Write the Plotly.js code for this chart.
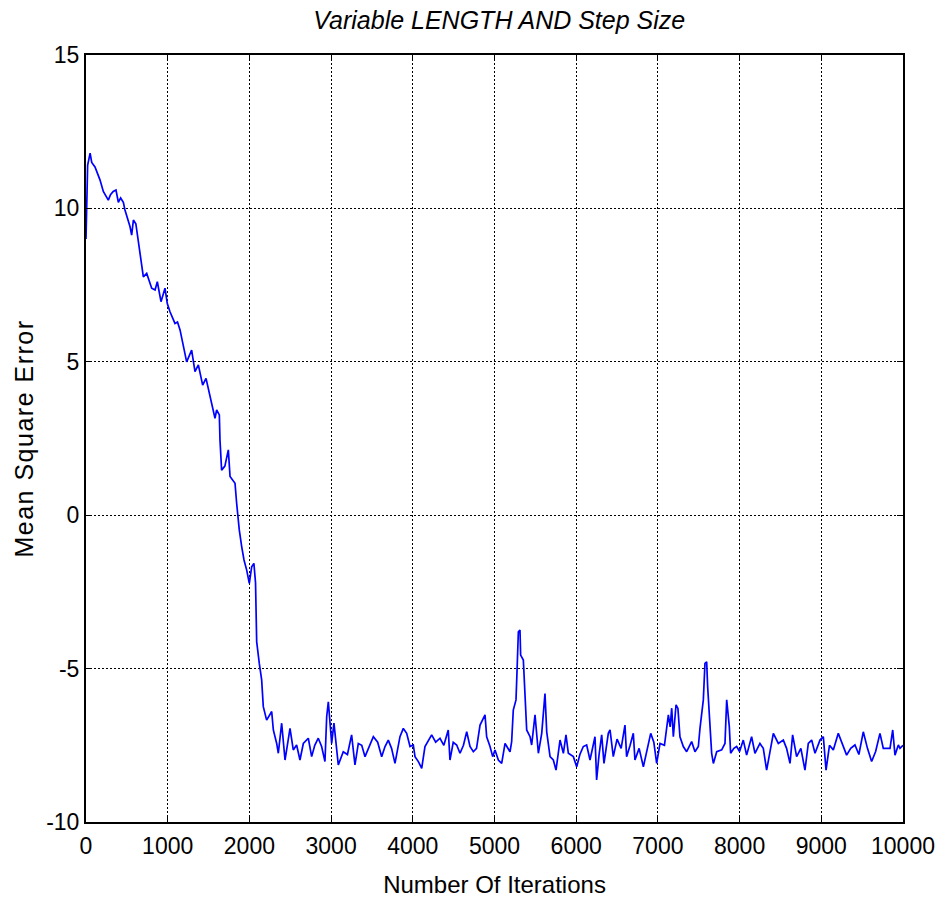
<!DOCTYPE html>
<html>
<head>
<meta charset="utf-8">
<script src="https://cdn.plot.ly/plotly-3.0.1.min.js"></script>
<style>html,body{margin:0;padding:0;background:#fff;}#chart{width:942px;height:898px;}
.ytitle{letter-spacing:1.5px;}</style>
</head>
<body>
<div id="chart"></div>
<script>
const iterations = [0,20,50,70,110,171,212,273,300,333,367,396,424,457,477,539,559,580,610,641,681,702,743,804,845,873,918,967,995,1028,1089,1120,1151,1191,1232,1293,1334,1375,1428,1469,1497,1538,1579,1599,1632,1640,1660,1700,1742,1763,1824,1844,1876,1906,1934,1967,1999,2028,2055,2075,2089,2121,2150,2170,2211,2273,2293,2334,2354,2395,2436,2497,2537,2578,2619,2660,2721,2762,2800,2843,2884,2925,2946,2966,2986,3007,3035,3068,3088,3149,3200,3251,3292,3333,3375,3415,3460,3517,3570,3619,3660,3700,3740,3782,3843,3884,3925,3966,4006,4027,4068,4109,4149,4190,4231,4280,4333,4380,4434,4455,4495,4537,4578,4620,4660,4700,4741,4780,4823,4884,4904,4945,4978,5006,5047,5088,5129,5190,5210,5230,5263,5272,5292,5312,5320,5353,5373,5394,5435,5455,5496,5516,5537,5578,5618,5639,5680,5720,5753,5802,5843,5875,5904,5965,6006,6045,6087,6128,6169,6230,6250,6280,6312,6340,6393,6414,6454,6500,6550,6597,6617,6660,6699,6719,6770,6822,6870,6912,6950,6985,7026,7080,7128,7150,7169,7189,7222,7245,7270,7311,7352,7413,7454,7495,7515,7556,7576,7597,7609,7638,7658,7679,7720,7781,7821,7842,7874,7890,7930,7964,8000,8045,8086,8147,8188,8249,8290,8331,8370,8413,8474,8535,8575,8617,8649,8698,8750,8800,8841,8882,8923,8984,9025,9058,9100,9147,9208,9260,9310,9360,9412,9460,9514,9565,9616,9665,9718,9759,9841,9874,9902,9943,9963,10000];
const mse = [9.0,11.4,11.8,11.5,11.35,10.93,10.55,10.27,10.45,10.55,10.6,10.2,10.34,10.2,9.95,9.4,9.13,9.62,9.5,8.86,8.2,7.77,7.88,7.4,7.34,7.61,6.96,7.4,6.9,6.63,6.25,6.3,6.04,5.49,5.0,5.38,4.68,4.9,4.24,4.46,4.14,3.6,3.16,3.43,3.27,2.45,1.47,1.6,2.13,1.26,1.04,0.39,-0.48,-1.03,-1.46,-1.79,-2.22,-1.68,-1.57,-2.2,-4.12,-4.83,-5.37,-6.24,-6.68,-6.4,-7.0,-7.44,-7.76,-6.78,-7.98,-6.95,-7.65,-7.49,-7.98,-7.44,-7.27,-7.87,-7.5,-7.27,-7.54,-8.03,-6.57,-6.08,-6.78,-7.44,-6.78,-7.54,-8.14,-7.71,-7.8,-7.16,-8.14,-7.44,-7.5,-7.87,-7.6,-7.22,-7.4,-7.87,-7.54,-7.33,-7.6,-8.09,-7.22,-6.95,-7.11,-7.54,-7.49,-7.87,-8.03,-8.25,-7.54,-7.33,-7.16,-7.4,-7.27,-7.5,-7.0,-7.98,-7.4,-7.49,-7.76,-7.5,-7.06,-7.54,-7.71,-7.6,-6.84,-6.51,-7.22,-7.54,-7.87,-7.65,-7.98,-8.09,-7.44,-7.71,-7.38,-6.35,-6.02,-5.37,-3.8,-3.74,-4.56,-4.72,-5.7,-7.0,-7.22,-7.49,-6.51,-7.22,-7.76,-7.11,-5.81,-7.06,-7.87,-7.98,-8.31,-7.33,-7.76,-7.16,-7.76,-7.87,-8.2,-7.8,-7.54,-7.49,-7.98,-7.22,-8.63,-7.8,-7.16,-8.09,-7.11,-7.0,-7.87,-7.3,-7.6,-6.84,-7.87,-7.5,-7.11,-7.98,-7.6,-8.2,-7.6,-7.11,-7.4,-8.09,-7.44,-7.5,-6.51,-6.9,-6.29,-7.22,-6.18,-6.3,-7.22,-7.54,-7.71,-7.38,-7.71,-7.54,-6.95,-6.02,-4.83,-4.78,-5.59,-6.89,-7.76,-8.09,-7.71,-7.65,-7.44,-6.02,-6.89,-7.76,-7.6,-7.54,-7.7,-7.33,-7.82,-7.22,-7.76,-7.44,-7.6,-8.31,-7.7,-7.11,-7.44,-7.33,-7.6,-8.09,-7.16,-7.87,-7.6,-8.31,-7.44,-7.33,-7.76,-7.33,-7.22,-8.31,-7.5,-7.65,-7.11,-7.5,-7.82,-7.6,-7.49,-7.8,-7.06,-7.6,-8.03,-7.7,-7.11,-7.6,-7.6,-7.0,-7.82,-7.49,-7.6,-7.5];

const xTickVals = [0,1000,2000,3000,4000,5000,6000,7000,8000,9000,10000];
const xTickText = ["0","1000","2000","3000","4000","5000","6000","7000","8000","9000","10000"];
const yTickVals = [-10,-5,0,5,10,15];
const yTickText = ["-10","-5","0","5","10","15"];

const font = "Liberation Sans, Arial, sans-serif";

const trace = {
  x: iterations, y: mse, type: 'scatter', mode: 'lines',
  line: {color: '#0000FF', width: 1.7}, hoverinfo: 'none'
};

const axisCommon = {
  showline: true, linecolor: '#000', linewidth: 2, mirror: 'ticks',
  ticks: 'inside', ticklen: 6, tickcolor: '#000', tickwidth: 1,
  showgrid: true, gridcolor: '#000', gridwidth: 1, griddash: '2px,2px',
  zeroline: false, tickfont: {family: font, size: 23, color: '#000'},
  automargin: false
};

const layout = {
  width: 942, height: 898,
  margin: {l: 86, r: 39, t: 55, b: 76},
  paper_bgcolor: '#fff', plot_bgcolor: '#fff',
  showlegend: false,
  title: {text: '<i>Variable LENGTH AND Step Size</i>', x: 0.530, xanchor: 'center', y: 0.978, yanchor: 'middle', yref: 'container',
          font: {family: font, size: 25, color: '#000'}},
  xaxis: Object.assign({}, axisCommon, {
    range: [0, 10000], tickmode: 'array', tickvals: xTickVals, ticktext: xTickText,
    ticklabelstandoff: 2,
    title: {text: 'Number Of Iterations', font: {family: font, size: 24, color: '#000'}, standoff: 19}
  }),
  yaxis: Object.assign({}, axisCommon, {
    range: [-10, 15], tickmode: 'array', tickvals: yTickVals, ticktext: yTickText,
    title: {text: 'Mean Square Error', font: {family: font, size: 25, color: '#000'}, standoff: 5}
  })
};

Plotly.newPlot('chart', [trace], layout, {displayModeBar: false, staticPlot: true});
</script>
</body>
</html>
